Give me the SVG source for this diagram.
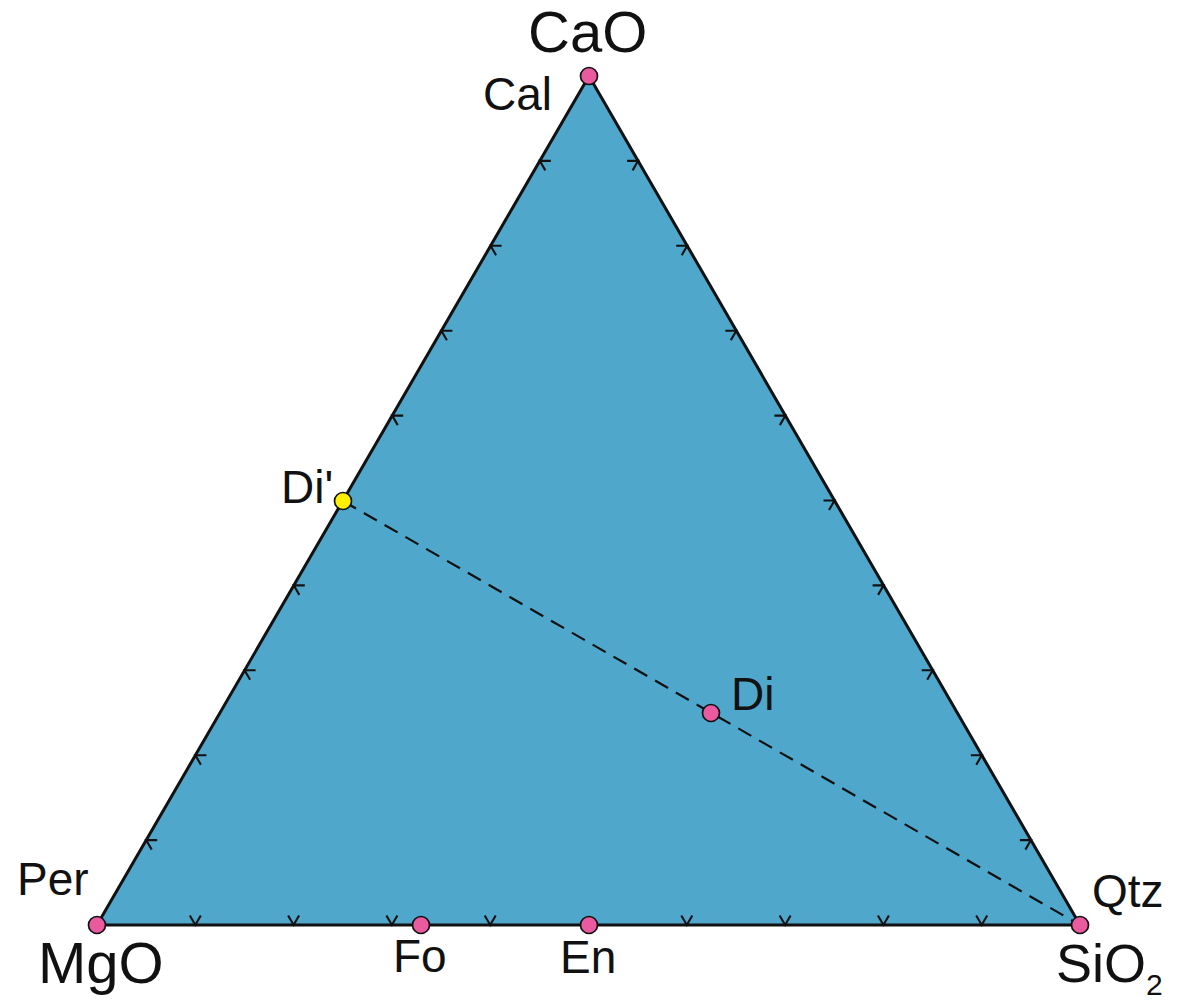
<svg xmlns="http://www.w3.org/2000/svg" width="1186" height="1001" viewBox="0 0 1186 1001">
  <style>
    .lbl { font-family: "Liberation Sans", Arial, sans-serif; fill: #111; }
    .big { font-size: 58px; }
    .sm { font-size: 46px; }
    .pt { fill: #EA5A9E; stroke: #111; stroke-width: 1.7; }
    .pty { fill: #FFF000; stroke: #111; stroke-width: 1.7; }
    .tick { fill: none; stroke: #111; stroke-width: 2.1; stroke-linejoin: miter; }
  </style>
  <defs>
    <path id="tl" class="tick" d="M11,0 L0,0 L5.5,9.5"/>
    <path id="tr" class="tick" d="M-11,0 L0,0 L-5.5,9.5"/>
    <path id="tb" class="tick" d="M-5.5,-9.5 L0,0 L5.5,-9.5"/>
  </defs>
  <rect width="1186" height="1001" fill="#fff"/>
  <g id="triangle">
    <polygon points="589,76 97,925 1080,925" fill="#50A7CC" stroke="#111" stroke-width="3" stroke-linejoin="round"/>
  </g>
  <g id="ticks">
    <use href="#tl" x="146.2" y="840.1"/>
    <use href="#tl" x="195.4" y="755.2"/>
    <use href="#tl" x="244.6" y="670.3"/>
    <use href="#tl" x="293.8" y="585.4"/>
    <use href="#tl" x="392.2" y="415.6"/>
    <use href="#tl" x="441.4" y="330.7"/>
    <use href="#tl" x="490.6" y="245.8"/>
    <use href="#tl" x="539.8" y="160.9"/>
    <use href="#tr" x="1030.9" y="840.1"/>
    <use href="#tr" x="981.8" y="755.2"/>
    <use href="#tr" x="932.7" y="670.3"/>
    <use href="#tr" x="883.6" y="585.4"/>
    <use href="#tr" x="834.5" y="500.5"/>
    <use href="#tr" x="785.4" y="415.6"/>
    <use href="#tr" x="736.3" y="330.7"/>
    <use href="#tr" x="687.2" y="245.8"/>
    <use href="#tr" x="638.1" y="160.9"/>
    <use href="#tb" x="195.3" y="925"/>
    <use href="#tb" x="293.6" y="925"/>
    <use href="#tb" x="391.9" y="925"/>
    <use href="#tb" x="490.2" y="925"/>
    <use href="#tb" x="686.8" y="925"/>
    <use href="#tb" x="785.1" y="925"/>
    <use href="#tb" x="883.4" y="925"/>
    <use href="#tb" x="981.7" y="925"/>
  </g>
  <g id="connectors">
    <line x1="343" y1="501" x2="1080" y2="925" stroke="#111" stroke-width="2.2" stroke-dasharray="15,9"/>
  </g>
  <g id="node-cao">
    <circle class="pt" cx="589" cy="76" r="8.5"/>
    <text class="lbl big" x="528" y="52">CaO</text>
    <text class="lbl sm" x="552" y="110" text-anchor="end">Cal</text>
  </g>
  <g id="node-mgo">
    <circle class="pt" cx="97" cy="925" r="8.5"/>
    <text class="lbl sm" x="17" y="895">Per</text>
    <text class="lbl big" x="38" y="983">MgO</text>
  </g>
  <g id="node-sio2">
    <circle class="pt" cx="1080" cy="925" r="8.5"/>
    <text class="lbl sm" x="1092" y="907">Qtz</text>
    <text class="lbl" x="1056" y="982" font-size="54">SiO<tspan font-size="30" dy="13">2</tspan></text>
  </g>
  <g id="node-fo">
    <circle class="pt" cx="421" cy="925" r="8.5"/>
    <text class="lbl sm" x="393" y="972">Fo</text>
  </g>
  <g id="node-en">
    <circle class="pt" cx="589" cy="925" r="8.5"/>
    <text class="lbl sm" x="560" y="973">En</text>
  </g>
  <g id="node-di">
    <circle class="pt" cx="711" cy="713" r="8.5"/>
    <text class="lbl sm" x="731" y="710">Di</text>
  </g>
  <g id="node-di-prime">
    <circle class="pty" cx="343" cy="501" r="8.5"/>
    <text class="lbl sm" x="281" y="503">Di'</text>
  </g>
</svg>
